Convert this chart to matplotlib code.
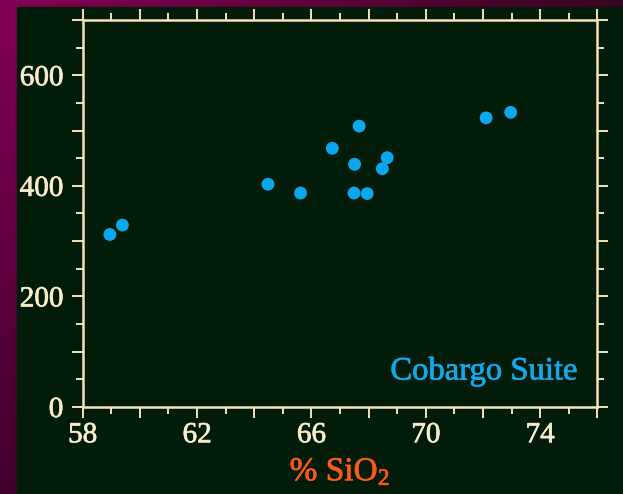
import numpy as np
import matplotlib
matplotlib.use("Agg")
import matplotlib.pyplot as plt
import matplotlib.patheffects as pe
from matplotlib.ticker import MultipleLocator
from matplotlib.patches import Rectangle

plt.rcParams['font.family'] = ['Liberation Serif', 'DejaVu Serif']
plt.rcParams['mathtext.fontset'] = 'custom'
plt.rcParams['mathtext.rm'] = 'Liberation Serif'
plt.rcParams['mathtext.it'] = 'Liberation Serif:italic'

# Cobargo Suite samples: SiO2 (wt %) vs. value
sio2 = [58.95, 59.39, 64.48, 65.62, 66.73, 67.67, 67.51, 68.65, 68.48, 67.49, 67.95, 72.11, 72.97]
vals = [312, 329, 403, 387, 468, 508, 439, 451, 431, 387, 386, 523, 533]

x_labels = [58, 62, 66, 70, 74]
y_labels = [0, 200, 400, 600]
suite_name = "Cobargo Suite"

W, H, DPI = 623, 494, 100
fig = plt.figure(figsize=(W / DPI, H / DPI), dpi=DPI)

# magenta frame with a soft gradient
bg = fig.add_axes([0, 0, 1, 1])
bg.set_axis_off()
gx = np.linspace(0, 1, 200)[None, :]
gy = np.linspace(0, 1, 200)[:, None]
tl = np.array([0x84, 0x00, 0x58]) / 255
tr = np.array([0x3a, 0x06, 0x22]) / 255
bl = np.array([0x42, 0x00, 0x2c]) / 255
img = (tl[None, None, :] * (1 - gx[..., None]) * (1 - gy[..., None])
       + tr[None, None, :] * gx[..., None] * (1 - gy[..., None])
       + bl[None, None, :] * (1 - gx[..., None]) * gy[..., None]
       + bl[None, None, :] * 0.7 * gx[..., None] * gy[..., None])
bg.imshow(img, extent=[0, 1, 0, 1], aspect='auto', origin='upper')
bg.add_patch(Rectangle((17 / W, 0), 1, 1 - 7 / H, color='#021c0a', transform=bg.transAxes))
bg.set_xlim(0, 1)
bg.set_ylim(0, 1)

fg = '#f4e4b6'
thicken = lambda c, w=0.5: [pe.withStroke(linewidth=w, foreground=c)]

ax = fig.add_axes([82.7 / W, 1 - 407 / H, (597.3 - 82.7) / W, (407 - 20) / H])
ax.set_facecolor('none')
ax.scatter(sio2, vals, s=85, color='#0aa8f0', edgecolors='none', zorder=3)

ax.set_xlim(58, 76)
ax.set_ylim(0, 700)
for side in ['left', 'right', 'top', 'bottom']:
    ax.spines[side].set_color(fg)
    ax.spines[side].set_linewidth(1.8)

ax.xaxis.set_minor_locator(MultipleLocator(1))
ax.yaxis.set_minor_locator(MultipleLocator(50))
ax.set_xticks(np.arange(58, 77, 2))
ax.set_xticklabels([str(v) if v in x_labels else '' for v in range(58, 77, 2)])
ax.set_yticks(np.arange(0, 701, 100))
ax.set_yticklabels([str(v) if v in y_labels else '' for v in range(0, 701, 100)])

ax.tick_params(which='both', direction='out', color=fg, width=1.4,
               top=True, right=True, labelcolor='#f8ecca', labelsize=21)
ax.tick_params(which='major', length=8)
ax.tick_params(which='minor', length=5)
ax.tick_params(axis='x', which='major', pad=3)
ax.tick_params(axis='y', which='major', pad=6)
for lab in ax.get_xticklabels() + ax.get_yticklabels():
    lab.set_path_effects(thicken('#f8ecca'))

ax.set_xlabel('% SiO$_2$', color='#ff5a14', fontsize=24, labelpad=6,
              path_effects=thicken('#ff5a14'))
ax.text(0.961, 0.093, suite_name, transform=ax.transAxes, ha='right', va='center',
        color='#12a8ec', fontsize=23.5, path_effects=thicken('#12a8ec'))

fig.savefig('out.png', dpi=DPI)
